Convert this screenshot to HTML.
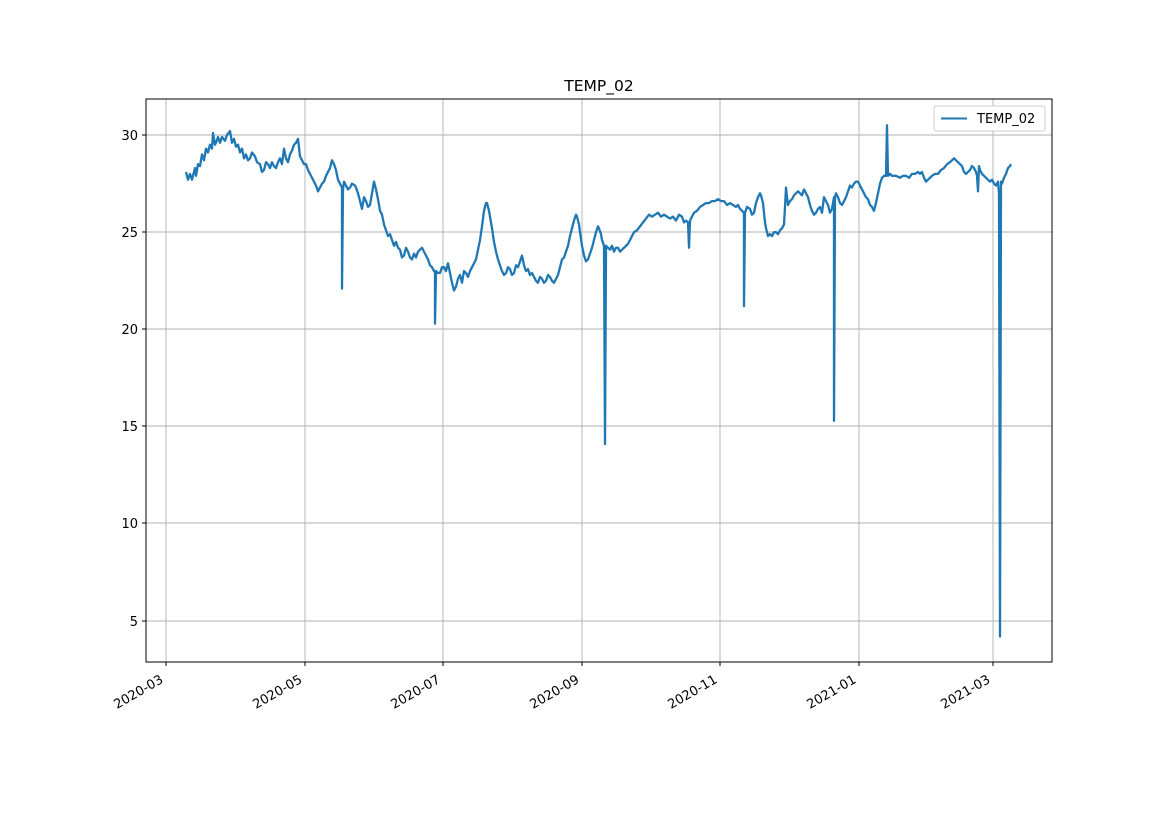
<!DOCTYPE html>
<html><head><meta charset="utf-8"><style>
html,body{margin:0;padding:0;background:#fff;}
svg{display:block;font-family:"DejaVu Sans","Liberation Sans",sans-serif;}
</style></head><body>
<svg width="1169" height="827" viewBox="0 0 1169 827" xmlns="http://www.w3.org/2000/svg">
<rect width="1169" height="827" fill="#fff"/>
<g stroke="#b0b0b0" stroke-width="0.9">
<line x1="166" y1="99" x2="166" y2="662"/><line x1="305" y1="99" x2="305" y2="662"/>
<line x1="443" y1="99" x2="443" y2="662"/><line x1="582" y1="99" x2="582" y2="662"/>
<line x1="720" y1="99" x2="720" y2="662"/><line x1="859" y1="99" x2="859" y2="662"/>
<line x1="993" y1="99" x2="993" y2="662"/>
<line x1="146" y1="135" x2="1052" y2="135"/><line x1="146" y1="232" x2="1052" y2="232"/>
<line x1="146" y1="329" x2="1052" y2="329"/><line x1="146" y1="426" x2="1052" y2="426"/>
<line x1="146" y1="523" x2="1052" y2="523"/><line x1="146" y1="621" x2="1052" y2="621"/>
</g>
<g transform="translate(0,718.2) scale(1,-19.44)">
<polyline fill="none" stroke="#1f77b4" stroke-width="2.3" vector-effect="non-scaling-stroke" stroke-linejoin="round" points="186,28.1 188,27.7 190,28 192,27.7 195,28.3 196,27.9 198,28.5 200,28.4 202,29.0 204,28.7 206,29.3 208,29.1 210,29.5 212,29.3 213,30.1 215,29.5 216,29.6 218,29.9 220,29.6 222,29.9 225,29.7 227,30 230,30.2 232,29.6 234,29.8 236,29.4 238,29.5 240,29.1 242,29.3 244,28.8 246,29.0 248,28.7 250,28.8 252,29.1 255,28.9 257,28.6 260,28.5 262,28.1 264,28.2 266,28.6 268,28.5 270,28.3 272,28.6 274,28.4 276,28.3 278,28.6 280,28.8 282,28.5 284,29.3 286,28.8 288,28.6 290,29.0 292,29.2 294,29.5 296,29.6 298,29.8 300,28.9 302,28.7 304,28.5 306,28.5 308,28.2 310,28.0 312,27.8 314,27.6 316,27.4 318,27.1 320,27.3 322,27.5 324,27.6 326,27.9 328,28.1 330,28.3 332,28.7 334,28.5 336,28.2 338,27.7 340,27.5 342,27.3 342,22.1 343,27.2 344,27.6 346,27.4 348,27.2 350,27.3 352,27.5 355,27.4 356,27.3 358,27.0 360,26.6 362,26.2 364,26.8 366,26.6 368,26.3 370,26.4 372,27.0 374,27.6 376,27.2 378,26.7 380,26.1 382,25.9 384,25.4 386,25.1 388,24.8 390,24.9 392,24.6 394,24.3 396,24.5 398,24.2 400,24.1 402,23.7 404,23.8 406,24.2 408,24.0 410,23.7 412,23.6 414,23.9 416,23.7 418,24.0 420,24.1 422,24.2 424,24.0 426,23.8 428,23.6 430,23.3 432,23.2 434,23.0 435,23.0 435,20.3 436,23.0 438,22.9 440,22.9 442,23.2 444,23.2 446,23.0 448,23.4 450,22.9 452,22.4 454,22.0 456,22.2 458,22.6 460,22.8 462,22.4 464,23.0 466,22.9 468,22.7 470,23.0 472,23.2 474,23.4 476,23.6 478,24.1 480,24.6 482,25.3 484,26.1 486,26.5 487,26.5 489,26.1 490,25.8 492,25.2 494,24.5 496,24.0 498,23.6 500,23.3 502,23.0 504,22.8 506,22.9 508,23.2 510,23.1 512,22.8 514,22.9 516,23.3 518,23.2 520,23.5 522,23.8 524,23.3 526,23.0 528,23.1 530,22.8 532,22.9 534,22.7 536,22.5 538,22.4 540,22.7 542,22.6 544,22.4 546,22.5 548,22.8 550,22.7 552,22.5 554,22.4 556,22.6 558,22.8 560,23.2 562,23.6 564,23.7 566,24.0 568,24.3 570,24.8 572,25.2 574,25.6 576,25.9 577,25.8 579,25.4 580,25.0 582,24.3 584,23.8 586,23.5 588,23.6 590,23.9 592,24.2 594,24.6 596,25.0 598,25.3 599,25.2 601,24.9 602,24.6 604,24.3 605,14.1 606,24.3 608,24.2 610,24.1 612,24.3 614,24.0 616,24.2 618,24.2 620,24.0 622,24.1 624,24.2 626,24.3 628,24.4 630,24.6 632,24.8 634,25.0 637,25.1 640,25.3 643,25.5 646,25.7 649,25.9 652,25.8 655,25.9 658,26.0 661,25.8 664,25.9 667,25.8 670,25.7 673,25.8 676,25.6 679,25.9 682,25.8 684,25.5 686,25.6 688,25.5 689,24.2 690,25.6 692,25.8 694,26.0 697,26.1 700,26.3 703,26.4 706,26.5 709,26.5 712,26.6 715,26.6 718,26.7 721,26.6 724,26.6 727,26.4 730,26.5 733,26.4 736,26.3 738,26.4 740,26.2 742,26.1 744,26.0 744,21.2 745,26.0 747,26.3 750,26.2 752,25.9 754,26.0 756,26.5 758,26.8 760,27.0 761,26.9 763,26.5 764,26.0 765,25.5 766,25.2 768,24.8 770,24.9 772,24.8 774,25.0 776,25.0 778,24.9 780,25.1 782,25.2 784,25.4 785,26.3 786,27.3 787,26.8 788,26.4 790,26.6 792,26.7 794,26.9 796,27.0 798,27.1 800,27.0 802,26.9 804,27.2 806,27.0 808,26.8 810,26.4 812,26.1 814,25.9 816,26.0 818,26.2 820,26.3 822,26.0 824,26.8 826,26.6 828,26.4 830,26.0 832,26.2 834,26.8 834,15.3 835,26.8 836,27.0 838,26.8 840,26.5 842,26.4 844,26.6 846,26.8 848,27.1 850,27.4 852,27.3 854,27.5 856,27.6 858,27.6 860,27.4 862,27.2 864,27.0 866,26.8 868,26.7 870,26.4 872,26.3 874,26.1 876,26.5 878,27.0 880,27.5 882,27.8 884,27.9 886,27.9 887,30.5 888,27.9 890,28.0 892,27.9 896,27.9 900,27.8 903,27.9 906,27.9 909,27.8 912,28.0 915,28.0 918,28.1 920,28.0 922,28.1 924,27.8 926,27.6 928,27.7 930,27.8 932,27.9 935,28.0 938,28.0 941,28.2 944,28.3 947,28.5 950,28.6 952,28.7 954,28.8 956,28.7 958,28.6 960,28.5 962,28.4 964,28.1 966,28.0 968,28.1 970,28.2 972,28.4 974,28.3 976,28.1 977,27.9 978,27.1 979,28.4 980,28.2 982,28.0 984,27.9 986,27.8 988,27.7 990,27.6 992,27.7 994,27.5 996,27.4 998,27.6 999,27.0 1000,4.2 1001,27.6 1002,27.5 1004,27.8 1006,28.0 1008,28.3 1010,28.4 1011,28.5"/>
</g>
<rect x="146" y="99" width="906" height="563" fill="none" stroke="#000" stroke-width="1"/>
<g stroke="#000" stroke-width="1">
<line x1="166" y1="662" x2="166" y2="666"/><line x1="305" y1="662" x2="305" y2="666"/>
<line x1="443" y1="662" x2="443" y2="666"/><line x1="582" y1="662" x2="582" y2="666"/>
<line x1="720" y1="662" x2="720" y2="666"/><line x1="859" y1="662" x2="859" y2="666"/>
<line x1="993" y1="662" x2="993" y2="666"/>
<line x1="142" y1="135" x2="146" y2="135"/><line x1="142" y1="232" x2="146" y2="232"/>
<line x1="142" y1="329" x2="146" y2="329"/><line x1="142" y1="426" x2="146" y2="426"/>
<line x1="142" y1="523" x2="146" y2="523"/><line x1="142" y1="621" x2="146" y2="621"/>
</g>
<g font-size="13" text-anchor="end" fill="#000">
<text x="138" y="140">30</text><text x="138" y="237">25</text><text x="138" y="334">20</text>
<text x="138" y="431">15</text><text x="138" y="528">10</text><text x="138" y="626">5</text>
</g>
<g font-size="13" text-anchor="end" fill="#000">
<text transform="translate(164,682) rotate(-30)">2020-03</text>
<text transform="translate(303,682) rotate(-30)">2020-05</text>
<text transform="translate(441,682) rotate(-30)">2020-07</text>
<text transform="translate(580,682) rotate(-30)">2020-09</text>
<text transform="translate(718,682) rotate(-30)">2020-11</text>
<text transform="translate(857,682) rotate(-30)">2021-01</text>
<text transform="translate(991,682) rotate(-30)">2021-03</text>
</g>
<text x="599" y="91" font-size="15.5" text-anchor="middle">TEMP_02</text>
<rect x="934" y="106" width="111" height="25" rx="2" fill="#fff" stroke="#ccc" stroke-width="1"/>
<line x1="941" y1="118.5" x2="967" y2="118.5" stroke="#1f77b4" stroke-width="2"/>
<text x="977" y="123" font-size="13">TEMP_02</text>
</svg>
</body></html>
